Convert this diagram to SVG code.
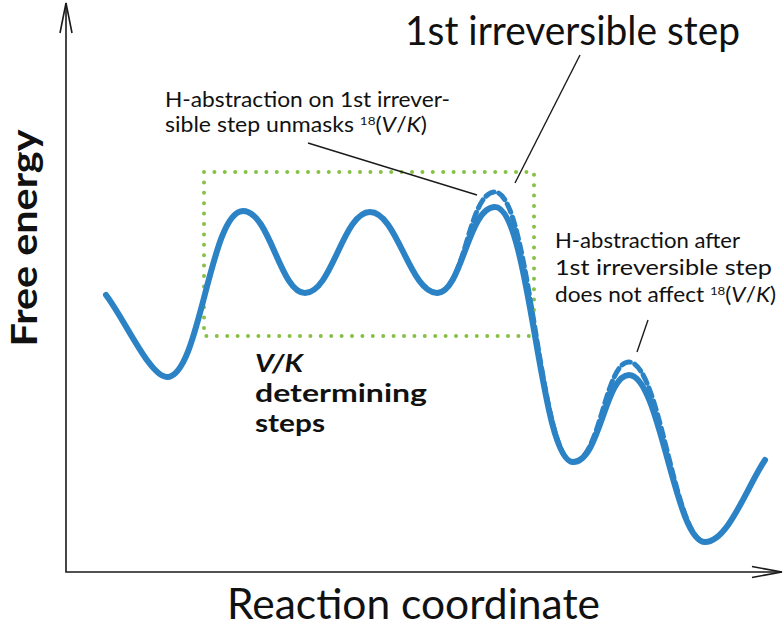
<svg xmlns="http://www.w3.org/2000/svg" width="783" height="628" viewBox="0 0 783 628">
<style>
.ax{fill:none;stroke:#1a1a1a;stroke-width:1.6}
.ld{fill:none;stroke:#1a1a1a;stroke-width:1.4}
.curve{fill:none;stroke:#2b83c6;stroke-width:6;stroke-linecap:round;stroke-linejoin:round}
.dash{fill:none;stroke:#2b83c6;stroke-width:5;stroke-dasharray:9 5;stroke-linecap:round}
.box{fill:none;stroke:#86c146;stroke-width:4;stroke-dasharray:0 10.4;stroke-linecap:round}
.t{font-family:Lato,"Open Sans","Liberation Sans",sans-serif;fill:#111}
.s{font-size:20.5px}
.b{font-weight:bold}
</style>
<rect width="783" height="628" fill="#fff"/>
<g id="axes">
<path class="ax" d="M66,3 V572 H782"/>
<path class="ax" d="M60,33 L66,3 L72,33"/>
<path class="ax" d="M752,566.5 L782,572 L752,577.5"/>
</g>
<g id="box">
<rect class="box" x="204" y="172" width="330" height="164"/>
</g>
<g id="curves">
<path class="dash" d="M437,293 C465,293 468,192 495,192 C530,192 540,462 573,462"/>
<path class="dash" d="M573,462 C600,462 605,362 629,362 C660,362 675,542 705,542"/>
<path class="curve" d="M106,295 C125,320 150,377 167,377 C200,377 210,211 243,211 C270,211 280,293 305,293 C332,293 343,212 370,212 C397,212 410,293 437,293 C462,293 468,207 495,207 C530,207 540,462 573,462 C600,462 605,375 629,375 C660,375 675,542 705,542 C728,542 748,485 765,460"/>
</g>
<g id="connectors">
<path class="ld" d="M308,143 L477,195"/>
<path class="ld" d="M580,55 L515,183"/>
<path class="ld" d="M648,320 L637,352"/>
</g>
<g id="labels">
<text class="t" x="405" y="45" font-size="40" textLength="335" lengthAdjust="spacingAndGlyphs">1st irreversible step</text>
<text class="t s" x="165" y="107" textLength="285" lengthAdjust="spacingAndGlyphs">H-abstraction on 1st irrever-</text>
<text class="t s" x="165" y="132" textLength="262" lengthAdjust="spacingAndGlyphs">sible step unmasks <tspan font-size="12" dy="-7">18</tspan><tspan dy="7">(</tspan><tspan font-style="italic">V</tspan>/<tspan font-style="italic">K</tspan>)</text>
<text class="t s" x="555" y="248" textLength="185" lengthAdjust="spacingAndGlyphs">H-abstraction after</text>
<text class="t s" x="555" y="275" textLength="217" lengthAdjust="spacingAndGlyphs">1st irreversible step</text>
<text class="t s" x="555" y="302" textLength="221" lengthAdjust="spacingAndGlyphs">does not affect <tspan font-size="12" dy="-7">18</tspan><tspan dy="7">(</tspan><tspan font-style="italic">V</tspan>/<tspan font-style="italic">K</tspan>)</text>
<text class="t b" x="255" y="372" font-size="24" font-style="italic" textLength="48" lengthAdjust="spacingAndGlyphs">V/K</text>
<text class="t b" x="255" y="402" font-size="24" textLength="172" lengthAdjust="spacingAndGlyphs">determining</text>
<text class="t b" x="255" y="432" font-size="24" textLength="70" lengthAdjust="spacingAndGlyphs">steps</text>
<text class="t b" transform="translate(37,238) rotate(-90)" text-anchor="middle" font-size="37" textLength="217" lengthAdjust="spacingAndGlyphs">Free energy</text>
<text class="t" x="227" y="619" font-size="42" textLength="373" lengthAdjust="spacingAndGlyphs">Reaction coordinate</text>
</g>
</svg>
